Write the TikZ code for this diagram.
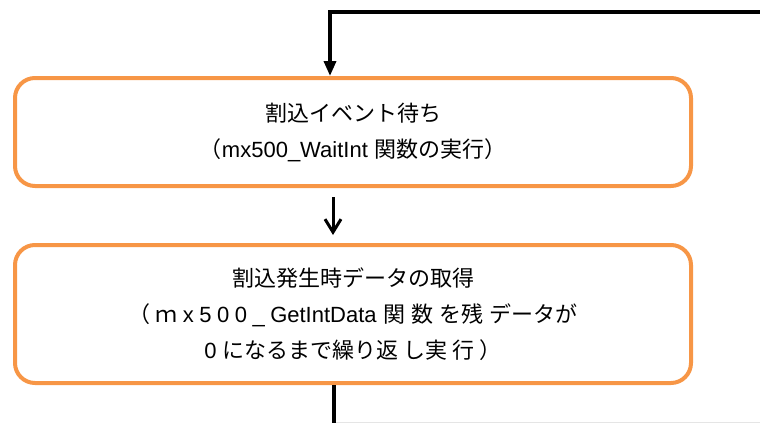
\documentclass[tikz,border=0pt]{standalone}
\usepackage{fontspec}
\setmainfont{Liberation Sans}
\newfontfamily\jp{Noto Sans CJK JP}
\usetikzlibrary{arrows.meta}
\definecolor{boxorange}{HTML}{F79646}
\begin{document}
\begin{tikzpicture}[x=1pt,y=-1pt,
  stepbox/.style={draw=boxorange, line width=4pt, rounded corners=20pt, align=center,
    inner sep=0pt, font=\fontsize{22}{36}\selectfont},
  flow/.style={line width=3.5pt, -{Triangle[length=15pt,width=12pt]}},
  flowb/.style={line width=3pt, -{Straight Barb[length=13pt,width=16pt,line width=3pt]}}]
\useasboundingbox (0,0) rectangle (760,423);
\node[stepbox, minimum width=676pt, minimum height=108pt] (b1) at (353,132)
  {{\jp 割込イベント待ち}\\{\jp （}mx500\_WaitInt {\jp 関数の実行）}};
\node[stepbox, minimum width=676pt, minimum height=138pt] (b2) at (353,314)
  {{\jp 割込発生時データの取得}\\
   {\jp （\kern5pt ｍ}\kern5.5pt x\kern5.5pt 5\kern5.5pt 0\kern5.5pt 0\kern5.5pt \_\kern5.5pt GetIntData\hspace{7pt}{\jp 関\hspace{6pt}数\hspace{6pt}を残\hspace{6pt}データが}\\
   0 {\jp になるまで繰り返 し実 行 ）}};
\coordinate (r) at (760,12);
\coordinate (g1) at (333,422);
\coordinate (g2) at (760,422);
\coordinate (e) at (334,423);
\draw[gray!20, line width=1pt] (g1) -- (g2);
\draw[flow] (r) -| ([xshift=-23pt]b1.north);
\draw[flowb] ([xshift=-20pt,yshift=-9pt]b1.south) -- ([xshift=-20pt,yshift=8pt]b2.north);
\draw[line width=4pt] ([xshift=-19pt]b2.south) -- (e);
\end{tikzpicture}
\end{document}
